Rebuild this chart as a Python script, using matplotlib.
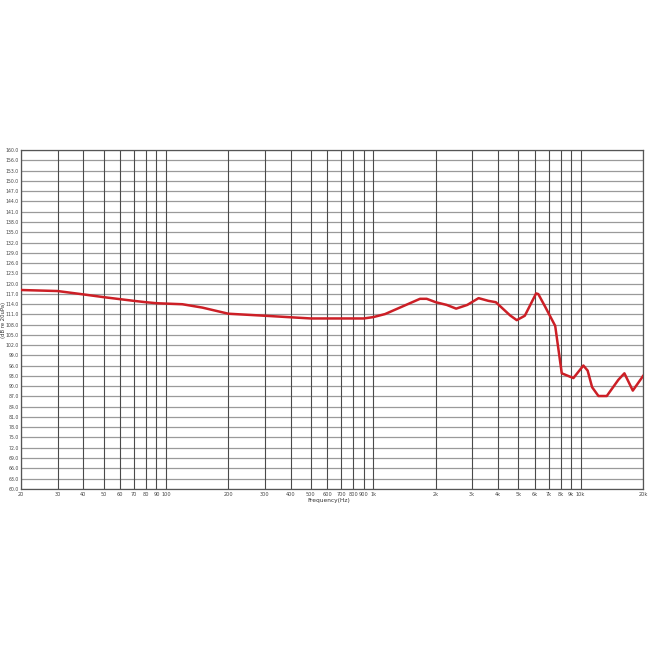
import matplotlib
matplotlib.use("Agg")
import matplotlib.pyplot as plt
import numpy as np

# Frequency response data
freq_hz = [20, 30, 40, 50, 60, 70, 80, 90, 120, 150, 200, 300, 500, 900, 1000,
           1140, 1680, 1810, 2000, 2260, 2510, 2840, 3220, 3590, 3900, 4570,
           4920, 5380, 6100, 6250, 6740, 7540, 8110, 9230, 10310, 10810, 11360,
           12190, 13370, 15210, 16260, 17850, 20000]
spl_db = [118.7, 118.4, 117.4, 116.6, 116.0, 115.5, 115.1, 114.8, 114.5, 113.5,
          111.7, 111.1, 110.3, 110.3, 110.7, 111.6, 116.1, 116.1, 115.1, 114.3,
          113.2, 114.3, 116.3, 115.5, 115.1, 111.2, 109.8, 111.1, 117.7, 117.5,
          113.8, 108.1, 94.1, 92.7, 96.4, 94.9, 90.0, 87.4, 87.4, 92.2, 94.1,
          89.0, 93.3]

x_ticks = [20, 30, 40, 50, 60, 70, 80, 90, 100, 200, 300, 400, 500, 600, 700,
           800, 900, 1000, 2000, 3000, 4000, 5000, 6000, 7000, 8000, 9000,
           10000, 20000]
x_tick_labels = ["20", "30", "40", "50", "60", "70", "80", "90", "100", "200",
                 "300", "400", "500", "600", "700", "800", "900", "1k", "2k",
                 "3k", "4k", "5k", "6k", "7k", "8k", "9k", "10k", "20k"]
y_tick_labels = ["60.0", "63.0", "66.0", "69.0", "72.0", "75.0", "78.0", "81.0",
                 "84.0", "87.0", "90.0", "93.0", "96.0", "99.0", "102.0", "105.0",
                 "108.0", "111.0", "114.0", "117.0", "120.0", "123.0", "126.0",
                 "129.0", "132.0", "135.0", "138.0", "141.0", "144.0", "147.0",
                 "150.0", "153.0", "156.0", "160.0"]

fig = plt.figure(figsize=(6.5, 6.5), dpi=100)
ax = fig.add_axes([0.0323, 0.248, 0.9570, 0.521])

ax.set_xscale("log")
ax.set_xlim(20, 20000)
ax.set_ylim(60, 160)

y_ticks = np.linspace(60, 160, len(y_tick_labels))
ax.set_yticks(y_ticks)
ax.set_yticklabels(y_tick_labels)
ax.set_xticks(x_ticks)
ax.set_xticklabels(x_tick_labels)
ax.xaxis.set_minor_locator(matplotlib.ticker.NullLocator())

ax.tick_params(axis="x", length=0, labelsize=3.6, colors="#444444", pad=2)
ax.tick_params(axis="y", length=0, labelsize=3.3, colors="#444444", pad=1.5)

for yv in y_ticks:
    ax.axhline(yv, color="#9a9a9a", lw=0.9, zorder=1)
for xv in x_ticks:
    ax.axvline(xv, color="#4a4a4a", lw=0.8, zorder=1)

for s in ax.spines.values():
    s.set_color("#555555")
    s.set_linewidth(0.9)

ax.plot(freq_hz, spl_db, color="#cc1f26", lw=1.8, zorder=3)

ax.set_xlabel("Frequency(Hz)", fontsize=4.2, color="#333333")
ax.set_ylabel("(dB re 20uPa)", fontsize=3.8, color="#333333")
ax.xaxis.set_label_coords(0.495, -0.028)
ax.yaxis.set_label_coords(-0.0235, 0.5)

fig.savefig("out.png", dpi=100, facecolor="white")
